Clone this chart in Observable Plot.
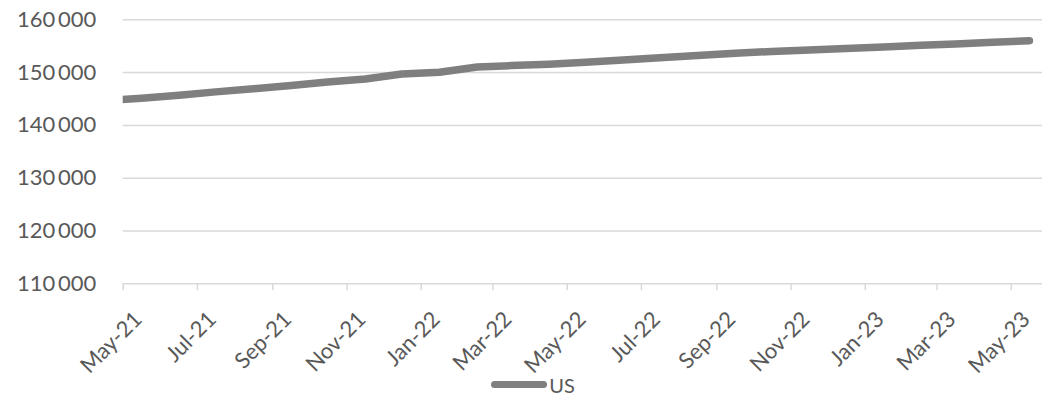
<!DOCTYPE html>
<html>
<head>
<meta charset="utf-8">
<script src="https://cdn.jsdelivr.net/npm/d3@7"></script>
<script src="https://cdn.jsdelivr.net/npm/@observablehq/plot@0.6"></script>
<style>
  html, body { margin: 0; padding: 0; background: #fff; }
  #chart svg { display: block; font-family: Lato, "Open Sans", sans-serif; overflow: visible; }
  #legend { height: 25px; display: flex; justify-content: center; align-items: center;
            padding-left: 24px; font-family: Lato, sans-serif; font-size: 20px; color: #595959; }
  #legend .sw { width: 56px; height: 7px; border-radius: 4px; background: #7f7f7f; margin-right: 2px; }
</style>
</head>
<body>
<div id="chart"></div>
<div id="legend"><span class="sw"></span><span>US</span></div>
<script>
// Monthly observations (plotted mid-month); first point lies left of the axis start and is clipped
const months = ["2021-04","2021-05","2021-06","2021-07","2021-08","2021-09","2021-10","2021-11","2021-12",
  "2022-01","2022-02","2022-03","2022-04","2022-05","2022-06","2022-07","2022-08","2022-09","2022-10",
  "2022-11","2022-12","2023-01","2023-02","2023-03","2023-04","2023-05"];
const usValues = [144700,145150,145700,146350,146950,147550,148200,148800,149750,
  150050,151060,151330,151600,151950,152400,152800,153250,153650,154000,
  154300,154570,154850,155190,155400,155750,156050];
const seriesName = "US";
const yTicks = [110000,120000,130000,140000,150000,160000];
const xTickMonths = ["2021-05","2021-07","2021-09","2021-11","2022-01","2022-03","2022-05",
  "2022-07","2022-09","2022-11","2023-01","2023-03","2023-05"];

const parseMid = s => { const [y, m] = s.split("-").map(Number); return new Date(Date.UTC(y, m - 1, 16)); };
const parseStart = s => { const [y, m] = s.split("-").map(Number); return new Date(Date.UTC(y, m - 1, 1)); };
const data = months.map((m, i) => ({date: parseMid(m), value: usValues[i], series: seriesName}));
const xTicks = xTickMonths.map(parseStart);

const fmtX = d3.utcFormat("%b-%y");
const fmtY = d => d3.format(",")(d).replace(",", "\u2009");

const grid = "#d9d9d9";
const textColor = "#595959";

const chart = Plot.plot({
  width: 1042,
  height: 372,
  marginTop: 19.3,
  marginBottom: 88.7,
  marginLeft: 122.7,
  marginRight: 0,
  x: {type: "utc", domain: [new Date(Date.UTC(2021, 4, 1)), new Date(Date.UTC(2023, 4, 26, 17))]},
  y: {domain: [110000, 160000]},
  marks: [
    Plot.gridY(yTicks.slice(1), {stroke: grid, strokeOpacity: 1, strokeWidth: 1.5}),
    Plot.ruleY([110000], {stroke: grid, strokeWidth: 1.5}),
    Plot.axisY({ticks: yTicks, tickSize: 0, tickPadding: 27, tickFormat: fmtY, fontSize: 22,
                fill: textColor, label: null}),
    Plot.axisX({ticks: xTicks, tickSize: 7, stroke: grid, strokeWidth: 1.5, tickFormat: () => "", label: null}),
    Plot.axisX({ticks: xTicks, tickSize: 0, tickPadding: 0, tickRotate: -45, textAnchor: "end",
                lineAnchor: "bottom", dx: 20, dy: 37, tickFormat: fmtX, fontSize: 22,
                fill: textColor, label: null}),
    Plot.line(data, {x: "date", y: "value", stroke: "#7f7f7f", strokeWidth: 7.5,
                     strokeLinecap: "round", strokeLinejoin: "round", clip: true})
  ]
});
document.getElementById("chart").appendChild(chart);
</script>
</body>
</html>
